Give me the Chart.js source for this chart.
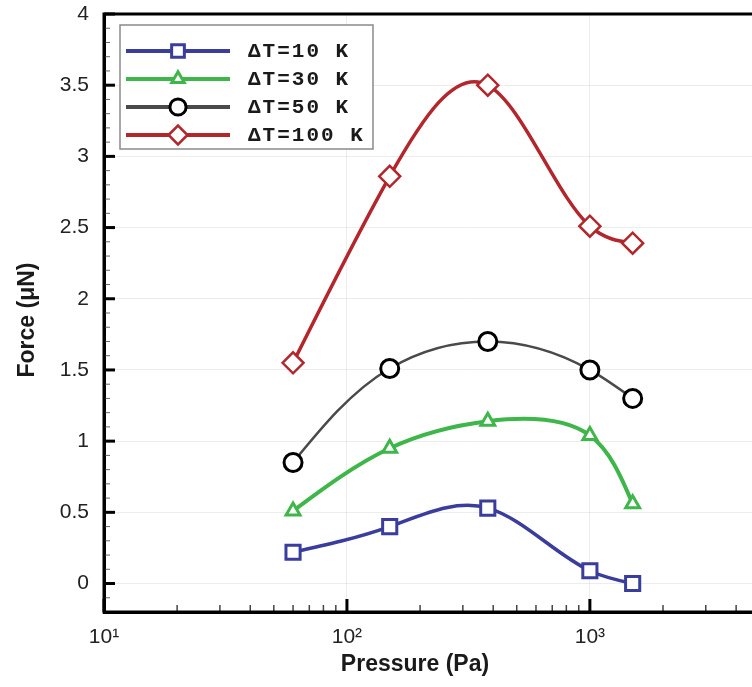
<!DOCTYPE html>
<html><head><meta charset="utf-8">
<script src="https://cdn.jsdelivr.net/npm/chart.js@4"></script>
<style>html,body{margin:0;padding:0;background:#fff;overflow:hidden}#wrap{width:862px;height:687px}</style>
</head><body><div id="wrap"><canvas id="c"></canvas></div>
<script>
const pressures = [60, 150, 380, 1000, 1500];
const forceDT10 = [0.22, 0.40, 0.53, 0.09, 0.00];
const forceDT30 = [0.51, 0.95, 1.14, 1.04, 0.56];
const forceDT50 = [0.85, 1.51, 1.70, 1.50, 1.30];
const forceDT100 = [1.55, 2.86, 3.50, 2.51, 2.39];
const seriesLabels = ['ΔT=10 K', 'ΔT=30 K', 'ΔT=50 K', 'ΔT=100 K'];
const xTickValues = [10, 100, 1000, 10000];
const xTickLabels = ['10¹', '10²', '10³', '10⁴'];
const yTickValues = [0, 0.5, 1, 1.5, 2, 2.5, 3, 3.5, 4];
const yTickLabels = ['0', '0.5', '1', '1.5', '2', '2.5', '3', '3.5', '4'];
const xTitle = 'Pressure (Pa)';
const yTitle = 'Force (μN)';

function pts(ys) { return pressures.map((p, i) => ({ x: p, y: ys[i] })); }

const styles = [
  { color: '#3a3d9c', style: 'rect', radius: 10, lw: 3.5, pbw: 3, param: false },
  { color: '#3fb64a', style: 'triangle', radius: 8, lw: 4, pbw: 3, param: true },
  { color: '#4a4a4a', style: 'circle', radius: 9, lw: 2.5, pbw: 3, pcol: '#000', param: true },
  { color: '#b3262c', style: 'rectRot', radius: 10.5, lw: 3.5, pbw: 2.5, param: false }
];
const series = [forceDT10, forceDT30, forceDT50, forceDT100];

const datasets = series.map((s, i) => ({
  label: seriesLabels[i],
  data: pts(s),
  borderColor: styles[i].color,
  borderWidth: styles[i].lw,
  pointStyle: styles[i].style,
  pointRadius: styles[i].radius,
  pointBorderWidth: styles[i].pbw,
  pointBorderColor: styles[i].pcol || styles[i].color,
  pointBackgroundColor: '#fff',
  tension: 0.5,
  fill: false
}));

function splineSlopes(t, v) {
  const n = t.length, h = [];
  for (let i = 0; i < n - 1; i++) h.push(t[i + 1] - t[i]);
  const M = new Array(n).fill(0);
  const a = [], b = [], c = [], d = [];
  for (let i = 1; i < n - 1; i++) {
    a.push(h[i - 1]); b.push(2 * (h[i - 1] + h[i])); c.push(h[i]);
    d.push(6 * ((v[i + 1] - v[i]) / h[i] - (v[i] - v[i - 1]) / h[i - 1]));
  }
  const m = b.length;
  for (let i = 1; i < m; i++) { const w = a[i] / b[i - 1]; b[i] -= w * c[i - 1]; d[i] -= w * d[i - 1]; }
  const sol = new Array(m);
  sol[m - 1] = d[m - 1] / b[m - 1];
  for (let i = m - 2; i >= 0; i--) sol[i] = (d[i] - c[i] * sol[i + 1]) / b[i];
  for (let i = 0; i < m; i++) M[i + 1] = sol[i];
  const s = new Array(n);
  for (let i = 0; i < n - 1; i++) s[i] = (v[i + 1] - v[i]) / h[i] - h[i] * (2 * M[i] + M[i + 1]) / 6;
  s[n - 1] = (v[n - 1] - v[n - 2]) / h[n - 2] + h[n - 2] * (M[n - 2] + 2 * M[n - 1]) / 6;
  return { s, h };
}

const splineCurves = {
  id: 'splineCurves',
  beforeDatasetsDraw(chart) {
    chart.data.datasets.forEach((ds, di) => {
      const meta = chart.getDatasetMeta(di);
      meta.dataset.updateControlPoints(chart.chartArea, meta.iScale.axis);
      const P = meta.data, n = P.length;
      if (n < 3) return;
      const xs = P.map(p => p.x), ys = P.map(p => p.y);
      let t;
      if (styles[di].param) {
        t = [0];
        for (let i = 1; i < n; i++) t.push(t[i - 1] + Math.hypot(xs[i] - xs[i - 1], ys[i] - ys[i - 1]));
      } else {
        t = xs.slice();
      }
      const sx = splineSlopes(t, xs), sy = splineSlopes(t, ys);
      const h = sx.h;
      for (let i = 0; i < n; i++) {
        const p = P[i];
        if (i > 0) { const k = h[i - 1] / 3; p.cp1x = xs[i] - sx.s[i] * k; p.cp1y = ys[i] - sy.s[i] * k; }
        if (i < n - 1) { const k = h[i] / 3; p.cp2x = xs[i] + sx.s[i] * k; p.cp2y = ys[i] + sy.s[i] * k; }
      }
    });
  }
};

const decor = {
  id: 'decor',
  beforeDatasetsDraw(chart) {
    const { ctx, chartArea: a, scales: { x, y } } = chart;
    ctx.save();
    for (let k = -2; k <= 40; k++) {
      const v = k / 10;
      const py = y.getPixelForValue(v);
      const major = k % 5 === 0;
      ctx.beginPath();
      ctx.strokeStyle = major ? '#000' : '#666';
      ctx.lineWidth = major ? 3 : 1;
      ctx.moveTo(a.left, py);
      ctx.lineTo(a.left + (major ? 11 : 6), py);
      ctx.stroke();
    }
    for (let dd = 10; dd <= 10000; dd *= 10) {
      for (let mm = 1; mm <= 9; mm++) {
        const v = dd * mm;
        if (v > 10000) break;
        const px = x.getPixelForValue(v);
        const major = mm === 1;
        ctx.beginPath();
        ctx.strokeStyle = major ? '#000' : '#444';
        ctx.lineWidth = major ? 3 : 1.5;
        ctx.moveTo(px, a.bottom);
        ctx.lineTo(px, a.bottom - (major ? 13 : 7));
        ctx.stroke();
      }
    }
    ctx.restore();
  },
  afterDraw(chart) {
    const { ctx, chartArea: a } = chart;
    ctx.save();
    ctx.strokeStyle = '#000';
    ctx.lineWidth = 3;
    ctx.strokeRect(a.left, a.top, a.right - a.left, a.bottom - a.top);
    const lx = a.left + 16, ly = a.top + 11, lw = 253, lh = 124;
    ctx.fillStyle = '#fff';
    ctx.fillRect(lx, ly, lw, lh);
    ctx.strokeStyle = '#8a8a8a';
    ctx.lineWidth = 1.5;
    ctx.strokeRect(lx, ly, lw, lh);
    chart.data.datasets.forEach((ds, i) => {
      const yy = ly + 26 + i * 28;
      ctx.beginPath();
      ctx.strokeStyle = ds.borderColor;
      ctx.lineWidth = 4;
      ctx.moveTo(lx + 6, yy);
      ctx.lineTo(lx + 110, yy);
      ctx.stroke();
      ctx.fillStyle = '#fff';
      ctx.strokeStyle = ds.pointBorderColor;
      ctx.lineWidth = ds.pointBorderWidth;
      Chart.helpers.drawPoint(ctx, { pointStyle: ds.pointStyle, radius: ds.pointRadius * 0.9, borderWidth: ds.pointBorderWidth }, lx + 58, yy);
      ctx.fillStyle = '#1a1a1a';
      ctx.font = 'bold 21px "Liberation Mono", "DejaVu Sans Mono", monospace';
      if ('letterSpacing' in ctx) ctx.letterSpacing = '2px';
      ctx.textBaseline = 'middle';
      ctx.textAlign = 'left';
      ctx.fillText(ds.label, lx + 128, yy + 1);
      if ('letterSpacing' in ctx) ctx.letterSpacing = '0px';
    });
    ctx.fillStyle = '#1a1a1a';
    ctx.font = 'bold 23px "Liberation Sans", Arial, sans-serif';
    ctx.textAlign = 'center';
    ctx.textBaseline = 'middle';
    ctx.fillText(xTitle, 415, 665);
    ctx.translate(28, 320);
    ctx.rotate(-Math.PI / 2);
    ctx.fillText(yTitle, 0, 0);
    ctx.restore();
  }
};

new Chart(document.getElementById('c'), {
  type: 'line',
  data: { datasets },
  options: {
    responsive: true,
    maintainAspectRatio: false,
    animation: false,
    layout: { padding: { left: 0, top: 14, right: 19, bottom: 0 } },
    plugins: { legend: { display: false }, tooltip: { enabled: false } },
    scales: {
      x: {
        type: 'logarithmic',
        min: 10, max: 10000,
        afterBuildTicks(s) { s.ticks = xTickValues.map(v => ({ value: v })); },
        afterFit(s) { s.height = 75; s.paddingLeft = 0; },
        ticks: {
          autoSkip: false, maxRotation: 0, padding: 13,
          color: '#222',
          font: { size: 21, family: '"Liberation Sans", Arial, sans-serif' },
          callback(v) { const i = xTickValues.indexOf(v); return i >= 0 ? xTickLabels[i] : ''; }
        },
        grid: { drawTicks: false, color: 'rgba(0,0,0,0.07)', lineWidth: 1 },
        border: { display: true, color: '#000', width: 3 }
      },
      y: {
        type: 'linear',
        min: -0.2, max: 4,
        afterBuildTicks(s) { s.ticks = yTickValues.map(v => ({ value: v })); },
        afterFit(s) { s.width = 104; s.paddingTop = 0; s.paddingBottom = 0; },
        ticks: {
          autoSkip: false, padding: 15,
          color: '#222',
          font: { size: 21, family: '"Liberation Sans", Arial, sans-serif' },
          callback(v) { const i = yTickValues.indexOf(v); return i >= 0 ? yTickLabels[i] : ''; }
        },
        grid: { drawTicks: false, color: 'rgba(0,0,0,0.07)', lineWidth: 1 },
        border: { display: true, color: '#000', width: 3 }
      }
    }
  },
  plugins: [splineCurves, decor]
});
</script>
</body></html>
